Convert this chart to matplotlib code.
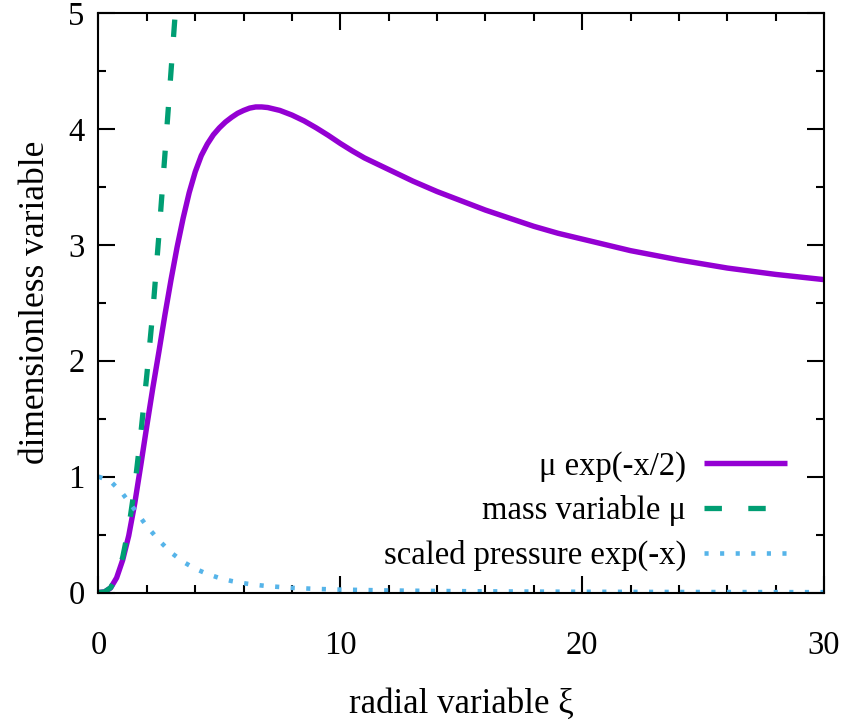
import matplotlib
matplotlib.use("Agg")
import matplotlib.pyplot as plt
from matplotlib.ticker import MultipleLocator

plt.rcParams['font.family'] = ['Liberation Serif', 'DejaVu Serif']

# radial variable xi and values
xi_mu = [0, 0.25, 0.5, 0.75, 1.0, 1.25, 1.5, 1.75, 2.0, 2.25, 2.5, 2.75, 3.0, 3.25, 3.5]
mass_mu = [0, 0.005, 0.041, 0.133, 0.303, 0.56, 0.915, 1.37, 1.88, 2.43, 3.09, 3.79, 4.50, 5.22, 5.95]

xi_f = [0, 0.25, 0.5, 0.75, 1.0, 1.25, 1.5, 1.75, 2.0, 2.25, 2.5, 2.75, 3.0, 3.25, 3.5, 3.75,
        4.0, 4.25, 4.5, 4.75, 5.0, 5.25, 5.5, 5.75, 6.0, 6.25, 6.5, 6.75, 7.0, 7.5, 8.0, 8.5,
        9.0, 9.5, 10, 10.5, 11, 11.5, 12, 13, 14, 15, 16, 17, 18, 19, 20, 22, 24, 26, 28, 30]
mu_exp = [0, 0.005, 0.039, 0.127, 0.280, 0.49, 0.77, 1.10, 1.44, 1.77, 2.08, 2.40, 2.70, 2.98,
          3.23, 3.45, 3.63, 3.77, 3.87, 3.95, 4.01, 4.06, 4.10, 4.135, 4.16, 4.18, 4.19, 4.19,
          4.185, 4.16, 4.12, 4.07, 4.01, 3.945, 3.875, 3.81, 3.75, 3.70, 3.65, 3.55, 3.46, 3.38,
          3.30, 3.23, 3.16, 3.10, 3.05, 2.95, 2.87, 2.80, 2.745, 2.70]

xi_p = [0, 0.5, 1.0, 1.5, 2.0, 2.5, 3.0, 3.5, 4.0, 4.5, 5.0, 5.5, 6.0, 6.5, 7.0, 8.0, 9.0,
        10, 12, 14, 16, 18, 20, 24, 28, 30]
pressure = [1.0, 0.960, 0.853, 0.713, 0.572, 0.45, 0.345, 0.265, 0.205, 0.16, 0.125, 0.099,
            0.080, 0.066, 0.055, 0.040, 0.031, 0.025, 0.0175, 0.013, 0.0098, 0.0077, 0.0062,
            0.0043, 0.0032, 0.0028]

labels = ['\u03bc exp(-x/2)', 'mass variable \u03bc', 'scaled pressure exp(-x)']

fig = plt.figure(figsize=(8.44, 7.27), dpi=100)
ax = fig.add_axes([0.1167, 0.185, 0.9763 - 0.1167, 0.982 - 0.185])

ax.plot(xi_f, mu_exp, color='#9400D3', lw=3.9, label=labels[0], solid_capstyle='butt')
ax.plot(xi_mu, mass_mu, color='#009E73', lw=3.8, dashes=(3.3, 5.0), label=labels[1],
        dash_capstyle='butt')
ax.plot(xi_p, pressure, color='#56B4E9', lw=3.3, dashes=(0.9, 2.5), label=labels[2],
        dash_capstyle='butt')

ax.set_xlim(0, 30)
ax.set_ylim(0, 5)
ax.xaxis.set_major_locator(MultipleLocator(10))
ax.xaxis.set_minor_locator(MultipleLocator(2))
ax.yaxis.set_major_locator(MultipleLocator(1))
ax.yaxis.set_minor_locator(MultipleLocator(0.5))
ax.tick_params(which='both', direction='in', top=True, right=True, width=1.5, labelsize=23.5)
ax.tick_params(which='major', length=12.5)
ax.tick_params(which='minor', length=6)
ax.tick_params(axis='x', which='major', pad=27)
ax.tick_params(axis='y', which='major', pad=10)
for s in ax.spines.values():
    s.set_linewidth(1.5)

ax.set_xlabel('radial variable \u03be', fontsize=25, labelpad=20)
ax.set_ylabel('dimensionless variable', fontsize=25.5, labelpad=12)

leg = ax.legend(loc='lower right', bbox_to_anchor=(0.99, -0.014), markerfirst=False,
                frameon=False, fontsize=23.5, handlelength=2.55, handletextpad=0.55,
                labelspacing=0.42)

fig.savefig('out.png', dpi=100)
